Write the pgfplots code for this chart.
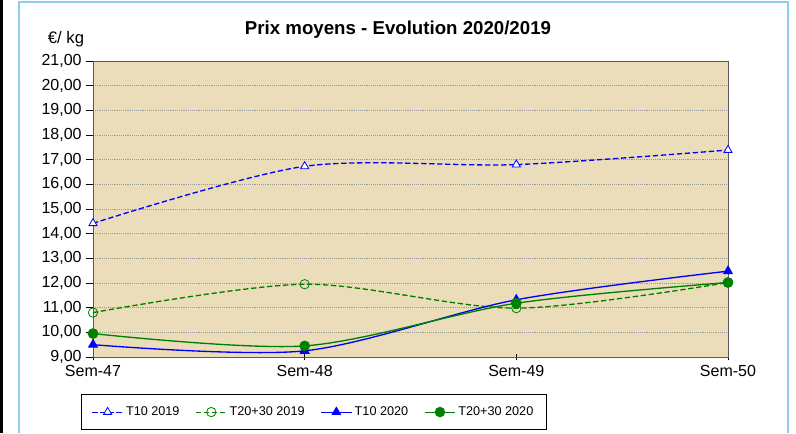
\documentclass[border=0pt]{standalone}
\usepackage{pgfplots}
\pgfplotsset{compat=1.18}
\usepackage{fontspec}
\setmainfont{Liberation Sans}
\definecolor{parch}{RGB}{236,221,186}
\definecolor{lblue}{RGB}{140,205,240}
\definecolor{xlgreen}{RGB}{0,128,0}
\begin{document}
\begin{tikzpicture}[x=0.75pt,y=0.75pt]
\path[use as bounding box] (0,0) rectangle (796,433);
\fill[white] (0,0) rectangle (796,433);
\fill[black] (0,0) rectangle (3,433);
\draw[lblue,line width=1.5pt] (19,0) -- (19,431) -- (788,431) -- (788,0);
\node[font=\bfseries\fontsize{14}{16}\selectfont] at (398,403) {Prix moyens - Evolution 2020/2019};
\node[font=\fontsize{12.5}{14}\selectfont] at (66,394) {€/ kg};
\begin{axis}[
  at={(69.75pt,57pt)}, anchor=south west,
  width=476.25pt, height=222pt, scale only axis,
  xmin=0, xmax=3, ymin=9, ymax=21,
  xtick={0,1,2,3}, xticklabels={Sem-47,Sem-48,Sem-49,Sem-50},
  ytick={9,10,...,21},
  yticklabel style={/pgf/number format/.cd,fixed,fixed zerofill,precision=2,use comma,assume math mode=true},
  ticklabel style={font=\fontsize{12}{14}\selectfont},
  axis background/.style={fill=parch},
  axis line style={draw=gray!70!black},
  ymajorgrids, major grid style={gray!80, densely dotted, line width=0.5pt},
  tick style={black, line width=0.6pt},
  major tick length=5pt,
  xtick align=center, ytick align=outside,
  tick pos=left,
  clip=false,
  legend columns=4,
  legend image code/.code={\draw[mark repeat=2,mark phase=2] plot coordinates {(0cm,0cm) (0.4cm,0cm) (0.8cm,0cm)};},
  legend style={at={(0.348,-0.186)}, anchor=center, draw=black, line width=0.5pt,
    font=\fontsize{9.5}{11}\selectfont, /tikz/every even column/.append style={column sep=10pt},
    inner xsep=8pt, inner ysep=7pt},
  legend image post style={line width=0.8pt, sharp plot},
]
\addplot[blue, line width=1pt, dash pattern=on 4pt off 2pt, smooth, mark=triangle*, mark size=3.5pt, mark options={solid, fill=white, draw=blue, line width=0.6pt}]
  coordinates {(0,14.42) (1,16.73) (2,16.80) (3,17.39)};
\addlegendentry{T10 2019}
\addplot[xlgreen, line width=1pt, dash pattern=on 4pt off 2pt, smooth, mark=o, mark size=3.5pt, mark options={solid, draw=xlgreen, fill=none, line width=0.6pt}]
  coordinates {(0,10.80) (1,11.95) (2,10.98) (3,12.02)};
\addlegendentry{T20+30 2019}
\addplot[blue, line width=1pt, smooth, mark=triangle*, mark size=3.5pt, mark options={solid, fill=blue}]
  coordinates {(0,9.50) (1,9.25) (2,11.32) (3,12.48)};
\addlegendentry{T10 2020}
\addplot[xlgreen, line width=1pt, smooth, mark=*, mark size=3.5pt, mark options={solid, fill=xlgreen}]
  coordinates {(0,9.95) (1,9.45) (2,11.18) (3,12.02)};
\addlegendentry{T20+30 2020}
\end{axis}
\end{tikzpicture}
\end{document}
